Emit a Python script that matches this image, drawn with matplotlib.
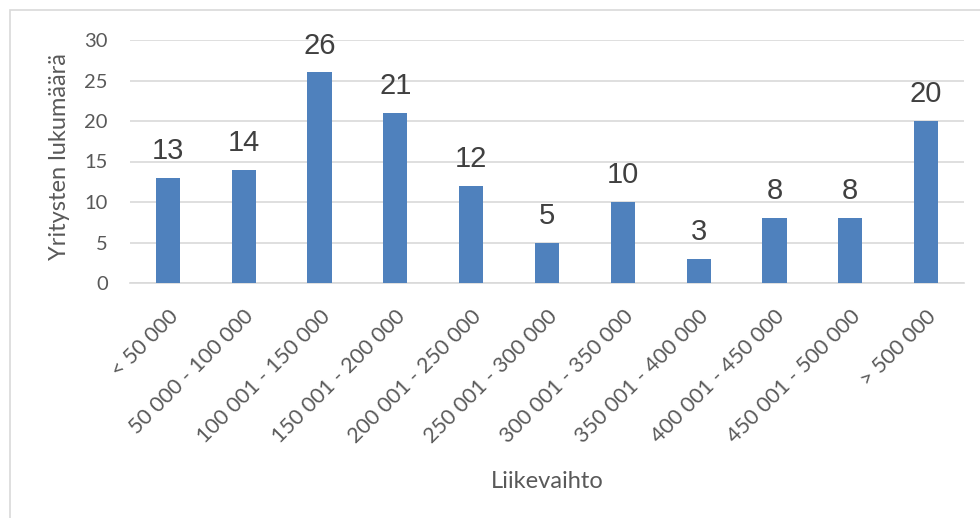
import numpy as np
import matplotlib.pyplot as plt
from matplotlib.patches import Rectangle

# data
categories = ["< 50 000", "50 000 - 100 000", "100 001 - 150 000", "150 001 - 200 000",
              "200 001 - 250 000", "250 001 - 300 000", "300 001 - 350 000",
              "350 001 - 400 000", "400 001 - 450 000", "450 001 - 500 000", "> 500 000"]
values = [13, 14, 26, 21, 12, 5, 10, 3, 8, 8, 20]
yticks = [0, 5, 10, 15, 20, 25, 30]

W, H = 980, 518
fig = plt.figure(figsize=(W / 100, H / 100), dpi=100)

# chart border (Excel style frame)
fig.patches.append(Rectangle((10 / W, -0.1), 1.2, 1 - 10 / H + 0.1, transform=fig.transFigure,
                             fill=False, edgecolor='#d9d9d9', linewidth=1.2))

ax = fig.add_axes([130 / W, 1 - 283 / H, (964 - 130) / W, (283 - 40) / H])

x = np.arange(len(categories))
ax.bar(x, values, width=0.32, color='#4f81bd', zorder=3)

for xi, v in zip(x, values):
    ax.annotate(str(v), (xi, v), xytext=(0, 13.5), textcoords='offset points',
                ha='center', va='baseline', fontsize=21,
                family='Liberation Sans', color='#404040')

ax.set_xlim(-0.5, len(categories) - 0.5)
ax.set_ylim(0, 30)
ax.set_yticks(yticks)
ax.yaxis.grid(True, color='#d9d9d9', linewidth=1.2, zorder=0)
ax.tick_params(axis='y', length=0, pad=16, labelsize=14.5, labelcolor='#595959')
ax.tick_params(axis='x', length=0, pad=17, labelsize=15.5, labelcolor='#595959')
for lab in ax.get_yticklabels():
    lab.set_family('Lato')

ax.set_xticks(x)
ax.set_xticklabels(categories, rotation=45, ha='right', rotation_mode='anchor', family='Lato')

for s in ['top', 'right', 'left']:
    ax.spines[s].set_visible(False)
ax.spines['bottom'].set_color('#d9d9d9')
ax.spines['bottom'].set_linewidth(1.2)

fig.text(60 / W, 1 - 157 / H, "Yritysten lukumäärä", rotation=90, ha='center', va='center',
         fontsize=17, color='#595959', family='Lato')
fig.text(547 / W, 1 - 481 / H, "Liikevaihto", ha='center', va='center', fontsize=17,
         color='#595959', family='Lato')

fig.savefig('out.png', dpi=100)
